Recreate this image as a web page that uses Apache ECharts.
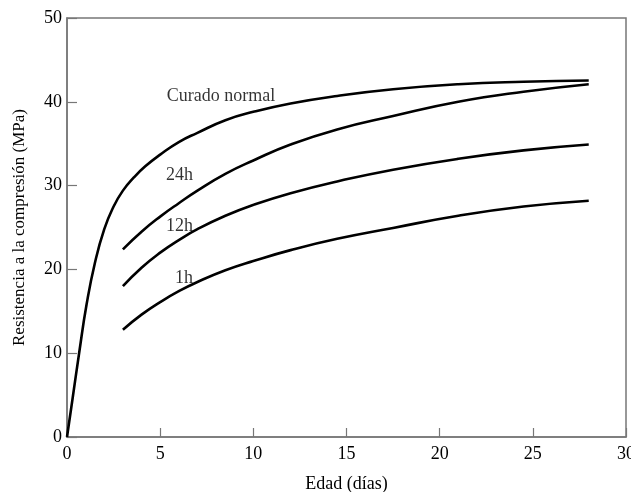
<!DOCTYPE html>
<html>
<head>
<meta charset="utf-8">
<script src="https://cdn.jsdelivr.net/npm/echarts@6/dist/echarts.min.js"></script>
<style>
html,body{margin:0;padding:0;background:#fff;}
#chart{width:631px;height:492px;}
</style>
</head>
<body>
<div id="chart"></div>
<script>
// Data
const ageNormal = [0, 0.3, 0.65, 1.05, 1.5, 2.0, 2.5, 3.0, 3.6, 4.2, 5.0, 6.0, 7.0, 8.5, 10, 12, 14.5, 17.5, 21, 24.5, 28];
const strengthNormal = [0, 4.6, 10, 15.8, 20.8, 24.8, 27.5, 29.4, 31.0, 32.3, 33.7, 35.2, 36.3, 37.8, 38.8, 39.8, 40.7, 41.5, 42.1, 42.4, 42.55];
const age24 = [3, 4, 5, 6, 7, 8.5, 10, 12, 14.5, 17.5, 21, 24.5, 28];
const strength24 = [22.4, 24.5, 26.3, 27.9, 29.4, 31.4, 33.0, 34.9, 36.7, 38.3, 40.0, 41.2, 42.1];
const age12 = [3, 4, 5, 6, 7, 8.5, 10, 12, 14.5, 17.5, 21, 24.5, 28];
const strength12 = [18.0, 20.2, 22.0, 23.5, 24.8, 26.4, 27.7, 29.1, 30.5, 31.9, 33.2, 34.2, 34.9];
const age1 = [3, 4, 5, 6, 7, 8.5, 10, 12, 14.5, 17.5, 21, 24.5, 28];
const strength1 = [12.8, 14.6, 16.1, 17.4, 18.5, 19.9, 21.0, 22.3, 23.65, 24.95, 26.4, 27.5, 28.2];
const labelTexts = ['Curado normal', '24h', '12h', '1h'];
const labelAges = [8.27, 6.04, 6.04, 6.28];
const labelStrengths = [40.7, 31.2, 25.2, 19.0];
const xTitle = 'Edad (días)';
const yTitle = 'Resistencia a la compresión (MPa)';

const FONT = '"Liberation Serif", "Times New Roman", serif';
const zip = (xs, ys) => xs.map((x, i) => [x, ys[i]]);
const curve = (name, xs, ys) => ({
  name, type: 'line', data: zip(xs, ys), showSymbol: false, symbol: 'none',
  smooth: 0.5,
  lineStyle: { color: '#000', width: 2.6, cap: 'butt', join: 'round' }, silent: true, z: 3
});

const chart = echarts.init(document.getElementById('chart'), null, { renderer: 'canvas' });
chart.setOption({
  animation: false,
  backgroundColor: '#fff',
  grid: { left: 67, right: 5, top: 18, bottom: 55, outerBoundsMode: 'none', containLabel: false,
          show: true, borderColor: '#777', borderWidth: 1.5, backgroundColor: 'transparent' },
  xAxis: {
    type: 'value', min: 0, max: 30, interval: 5,
    name: xTitle, nameLocation: 'middle', nameGap: 38,
    nameTextStyle: { fontFamily: FONT, fontSize: 18, color: '#000' },
    axisLine: { show: true, lineStyle: { color: '#777', width: 1.5 } },
    axisTick: { show: true, inside: true, length: 9, lineStyle: { color: '#777', width: 1.2 } },
    axisLabel: { fontFamily: FONT, fontSize: 18, color: '#000', margin: 8 },
    splitLine: { show: false }
  },
  yAxis: {
    type: 'value', min: 0, max: 50, interval: 10,
    name: yTitle, nameLocation: 'middle', nameGap: 39,
    nameTextStyle: { fontFamily: FONT, fontSize: 17, color: '#000' },
    axisLine: { show: true, lineStyle: { color: '#777', width: 1.5 } },
    axisTick: { show: true, inside: true, length: 10, lineStyle: { color: '#777', width: 1.2 } },
    axisLabel: { fontFamily: FONT, fontSize: 18, color: '#000', margin: 5 },
    splitLine: { show: false }
  },
  series: [
    curve('Curado normal', ageNormal, strengthNormal),
    curve('24h', age24, strength24),
    curve('12h', age12, strength12),
    curve('1h', age1, strength1),
    {
      type: 'scatter', symbolSize: 0, silent: true,
      data: labelTexts.map((t, i) => ({ value: [labelAges[i], labelStrengths[i]], name: t })),
      label: { show: true, position: 'inside', formatter: p => p.name, fontFamily: FONT, fontSize: 18, color: '#000' }
    }
  ]
});
</script>
</body>
</html>
